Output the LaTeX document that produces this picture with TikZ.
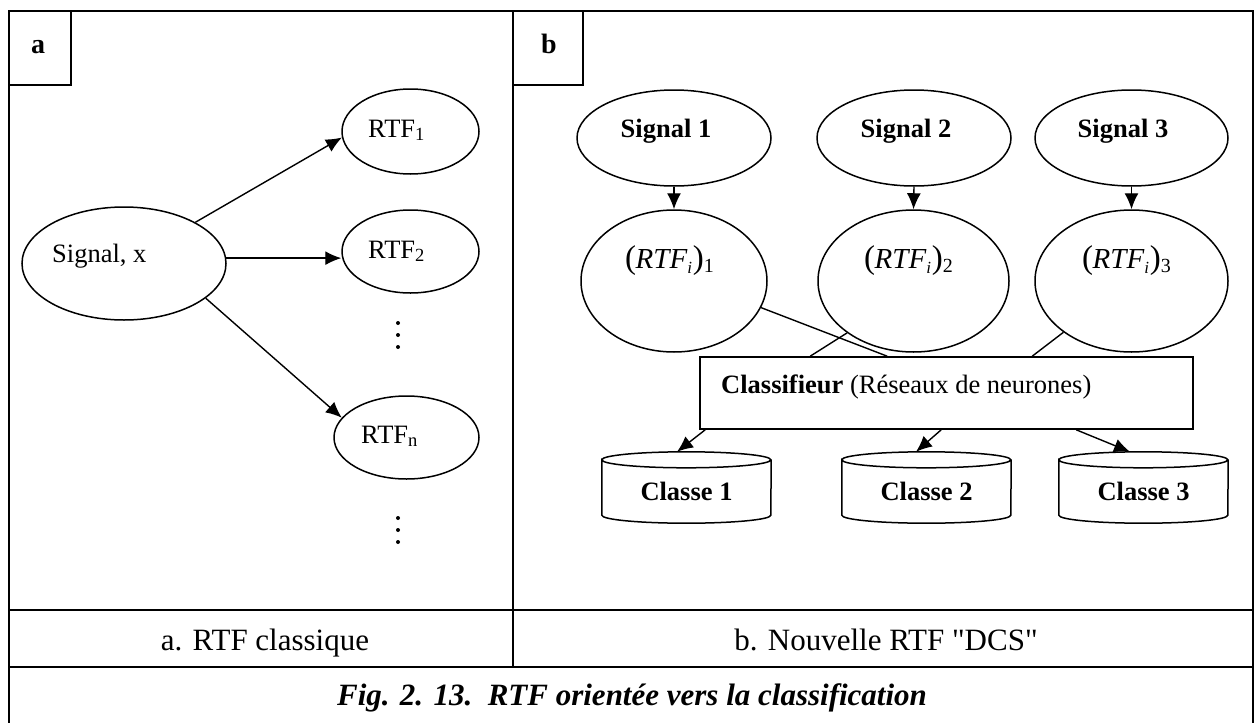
\documentclass[tikz,border=0pt]{standalone}
\usepackage{fontspec}
\setmainfont{Liberation Serif}
\usetikzlibrary{arrows.meta,shapes.geometric}
\newcommand\rtfsub[1]{{\fontsize{33}{33}\selectfont(}\kern-0.5pt{\fontsize{29}{29}\selectfont\itshape RTF}\raisebox{-5pt}{\fontsize{17}{17}\selectfont\itshape i}\kern1pt{\fontsize{33}{33}\selectfont)}\raisebox{-4pt}{\fontsize{20}{20}\selectfont #1}}
\begin{document}
\begin{tikzpicture}[x=1pt,y=-1pt,
  frameln/.style={line width=2pt},
  ell/.style={ellipse, draw, line width=1.5pt, inner sep=0pt},
  arr/.style={-{Latex[length=16pt,width=14pt]}, line width=1.4pt},
  plainln/.style={line width=1.4pt},
  lbl/.style={inner sep=0pt, font=\fontsize{26.5}{30}\selectfont},
  blbl/.style={inner sep=0pt, font=\fontsize{26.5}{30}\selectfont\bfseries},
  tagtxt/.style={inner sep=0pt, font=\fontsize{28}{32}\selectfont\bfseries},
  captxt/.style={inner sep=0pt, font=\fontsize{31}{36}\selectfont},
  cylbox/.style={rectangle, inner sep=0pt, minimum width=169pt, minimum height=71pt},
  cylln/.style={line width=1.5pt},
]
\useasboundingbox (0,0) rectangle (1259,723);

% table frame
\draw[frameln] (9,730) -- (9,11) -- (1253,11) -- (1253,730);
\draw[frameln] (513,11) -- (513,667);
\draw[line width=1.5pt] (9,610) -- (1253,610);
\draw[frameln] (9,667) -- (1253,667);
\draw[frameln] (9,85) -| (71,11);
\draw[frameln] (513,85) -| (583,11);
\node[tagtxt, anchor=base] (taga) at (38,53) {a};
\node[tagtxt, anchor=base] (tagb) at (549,53) {b};

% panel captions
\node[captxt, anchor=base] (capa) at (265,650) {a. RTF classique};
\node[captxt, anchor=base] (capb) at (886,650) {b. Nouvelle RTF {\addfontfeatures{Ligatures=TeXOff}"DCS"}};
\node[captxt, anchor=base, font=\fontsize{31}{36}\selectfont\bfseries\itshape] (figcap) at (632,705) {Fig. 2. 13.\ \ RTF orientée vers la classification};

% ---------- panel a ----------
\node[ell, minimum width=204pt, minimum height=113pt] (sig) at (124,263.5) {};
\node[lbl, anchor=base west] (sigt) at (52,262) {Signal, x};
\node[ell, minimum width=137pt, minimum height=85pt] (r1) at (410.5,131.5) {};
\node[lbl, anchor=base west] (r1t) at (368,137) {RTF\textsubscript{1}};
\node[ell, minimum width=137pt, minimum height=83pt] (r2) at (410.5,251.5) {};
\node[lbl, anchor=base west] (r2t) at (368,258) {RTF\textsubscript{2}};
\node[ell, minimum width=145pt, minimum height=83pt] (rn) at (406.5,437.5) {};
\node[lbl, anchor=base west] (rnt) at (361,443) {RTF\textsubscript{n}};

\draw[arr] (sig.30) -- (r1.185);
\draw[arr] (sig.3) -- (sig.3 -| r2.west);
\draw[arr] (sig.-23) -- (rn.163);

\foreach \yy in {323,335,347,518,530,542}
  \fill (398,\yy) circle[radius=2pt];

% ---------- panel b ----------
\node[ell, minimum width=194pt, minimum height=96pt] (s1) at (674,138) {};
\node[ell, minimum width=194pt, minimum height=96pt] (s2) at (914,138) {};
\node[ell, minimum width=193pt, minimum height=96pt] (s3) at (1131.5,138) {};
\node[blbl, anchor=base] (s1t) at (666,137) {Signal 1};
\node[blbl, anchor=base] (s2t) at (906,137) {Signal 2};
\node[blbl, anchor=base] (s3t) at (1123,137) {Signal 3};

\node[ell, minimum width=186pt, minimum height=142pt] (t1) at (674,281) {};
\node[ell, minimum width=191pt, minimum height=142pt] (t2) at (913.5,281) {};
\node[ell, minimum width=193pt, minimum height=142pt] (t3) at (1131.5,281) {};
\node[inner sep=0pt, anchor=base west] (t1t) at (625,268) {\rtfsub{1}};
\node[inner sep=0pt, anchor=base west] (t2t) at (864,268) {\rtfsub{2}};
\node[inner sep=0pt, anchor=base west] (t3t) at (1082,268) {\rtfsub{3}};

\draw[arr] (s1.south) -- (t1.north);
\draw[arr] (s2.south) -- (t2.north);
\draw[arr] (s3.south) -- (t3.north);

\node[draw, line width=1.6pt, fill=white, inner sep=0pt, minimum width=493pt, minimum height=72pt] (cls) at (946.5,393) {};
\node[lbl, anchor=base west] (clst) at (721,393) {\textbf{Classifieur} (Réseaux de neurones)};

\draw[plainln] (t1.-17.6) -- ([xshift=188pt]cls.north west);
\draw[plainln] (t2.218) -- ([xshift=111pt]cls.north west);
\draw[plainln] (t3.217) -- ([xshift=333pt]cls.north west);

% cylinders
\foreach \nm/\cx/\lab in {c1/686.5/Classe 1, c2/926.5/Classe 2, c3/1143.5/Classe 3}{
  \node[cylbox] (\nm) at (\cx,487.5) {};
  \draw[cylln] ([yshift=-8pt]\nm.north west) arc[start angle=180, end angle=-180, x radius=84.5pt, y radius=8pt]
     -- ([yshift=8pt]\nm.south west) arc[start angle=180, end angle=360, x radius=84.5pt, y radius=8pt]
     -- ([yshift=-8pt]\nm.north east);
  \node[blbl, anchor=base] (\nm t) at (\cx,500) {\lab};
}

\draw[arr] ([xshift=6pt]cls.south west) -- ([xshift=-9.5pt]c1.north);
\draw[arr] ([xshift=242pt]cls.south west) -- ([xshift=-10.5pt]c2.north);
\draw[arr] ([xshift=377pt]cls.south west) -- ([xshift=-13.5pt]c3.north);
\end{tikzpicture}
\end{document}
